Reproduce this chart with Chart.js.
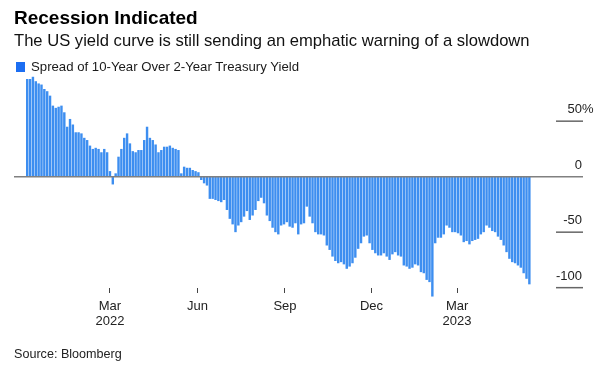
<!DOCTYPE html>
<html>
<head>
<meta charset="utf-8">
<script src="https://cdn.jsdelivr.net/npm/chart.js@4.4.0/dist/chart.umd.min.js"></script>
<style>
    html, body { margin: 0; padding: 0; background: #fff; }
    body { width: 605px; height: 375px; position: relative; overflow: hidden; font-family: 'Liberation Sans', Arial, sans-serif; }
    #spreadChart { position: absolute; left: 0; top: 0; }
    .txt { position: absolute; left: 14px; white-space: nowrap; }
    #title { top: 8px; font-size: 19px; line-height: 19px; font-weight: bold; color: #000; }
    #subtitle { top: 33px; font-size: 16.6px; line-height: 16.6px; color: #111; }
    #legendBox { position: absolute; left: 16px; top: 62px; width: 9px; height: 10px; background: #1c6ef2; }
    #legendText { left: 31px; top: 60px; font-size: 13.2px; line-height: 13.2px; color: #1a1a1a; }
    #source { top: 348px; font-size: 12.6px; line-height: 12.6px; color: #222; }
</style>
</head>
<body>
<canvas id="spreadChart" width="605" height="375"></canvas>
<div class="txt" id="title">Recession Indicated</div>
<div class="txt" id="subtitle">The US yield curve is still sending an emphatic warning of a slowdown</div>
<div id="legendBox"></div>
<div class="txt" id="legendText">Spread of 10-Year Over 2-Year Treasury Yield</div>
<div class="txt" id="source">Source: Bloomberg</div>

<script>
// gün numarası: 0 = 1 Ocak 2022, her çubuk 3 gün arayla (ilk çubuk 4 Aralık 2021)
const firstDay = -28;
const stepDays = 3;

// 10 yıl - 2 yıl farkı (baz puan)
const spread = [
    88, 88, 90, 86, 84, 83, 79, 77, 73, 64,
    62, 63, 64, 58, 45, 52, 47, 40, 40, 39,
    35, 33, 28, 25, 26, 25, 22, 25, 22, 5,
    -7, 3, 18, 25, 35, 39, 30, 23, 22, 24,
    24, 33, 45, 35, 33, 29, 22, 24, 27, 27,
    28, 26, 25, 24, 3, 9, 8, 8, 6, 5,
    4, -3, -6, -8, -20, -20, -21, -22, -23, -21,
    -30, -38, -43, -50, -44, -41, -36, -31, -39, -35,
    -30, -22, -19, -24, -35, -40, -46, -50, -52, -44,
    -43, -41, -45, -46, -42, -52, -43, -42, -27, -36,
    -42, -50, -52, -52, -53, -62, -66, -72, -76, -78,
    -77, -79, -83, -81, -78, -73, -65, -60, -54, -53,
    -60, -66, -69, -71, -71, -69, -72, -75, -70, -68,
    -71, -72, -80, -81, -83, -82, -79, -80, -86, -87,
    -93, -95, -108, -60, -55, -55, -52, -44, -46, -50,
    -50, -51, -53, -59, -58, -61, -58, -57, -56, -52,
    -50, -44, -46, -49, -50, -54, -57, -62, -68, -74,
    -77, -78, -80, -82, -87, -92, -97
];

const barDays = spread.map((_, i) => firstDay + stepDays * i);

// x ekseni etiketleri (1 Mart 2022, 1 Haziran, 1 Eylül, 1 Aralık, 1 Mart 2023)
const xTickDays = [59, 151, 243, 334, 424];
const xTickLabels = [['Mar', '2022'], 'Jun', 'Sep', 'Dec', ['Mar', '2023']];

// y ekseni etiketleri
const yTicks = [50, 0, -50, -100];
const yTickLabels = ['50', '0', '-50', '-100'];

const fontFamily = "'Liberation Sans', Arial, sans-serif";

// sıfır çizgisi ve sağdaki y etiketleri
const axisPlugin = {
    id: 'axisPlugin',
    afterDatasetsDraw(chart) {
        const { ctx, chartArea, scales: { y } } = chart;
        ctx.save();
        const y0 = y.getPixelForValue(0);
        ctx.strokeStyle = '#808080';
        ctx.lineWidth = 1.5;
        ctx.beginPath();
        ctx.moveTo(chartArea.left, y0);
        ctx.lineTo(chartArea.right, y0);
        ctx.stroke();

        ctx.font = '13px ' + fontFamily;
        ctx.fillStyle = '#222';
        ctx.textBaseline = 'alphabetic';
        yTicks.forEach((v, i) => {
            const py = y.getPixelForValue(v);
            if (v !== 0) {
                ctx.strokeStyle = '#666';
                ctx.lineWidth = 1.5;
                ctx.beginPath();
                ctx.moveTo(chartArea.right - 27, py);
                ctx.lineTo(chartArea.right, py);
                ctx.stroke();
            }
            ctx.textAlign = 'right';
            ctx.fillText(yTickLabels[i], chartArea.right - 1, py - 8);
            if (i === 0) {
                ctx.textAlign = 'left';
                ctx.fillText('%', chartArea.right - 1, py - 8);
            }
        });
        ctx.restore();
    }
};

const ctx = document.getElementById('spreadChart').getContext('2d');
const spreadChart = new Chart(ctx, {
    type: 'bar',
    data: {
        datasets: [{
            label: 'Spread of 10-Year Over 2-Year Treasury Yield',
            data: barDays.map((d, i) => ({ x: d, y: spread[i] })),
            backgroundColor: '#3d8ef0',
            borderWidth: 0,
            barPercentage: 0.85,
            categoryPercentage: 1,
            clip: false
        }]
    },
    options: {
        responsive: false,
        animation: false,
        layout: { padding: { left: 14, right: 22, top: 71, bottom: 0 } },
        plugins: {
            legend: { display: false },
            tooltip: { enabled: false }
        },
        scales: {
            x: {
                type: 'linear',
                min: -41.9,
                max: 556.4,
                offset: false,
                afterBuildTicks: scale => {
                    scale.ticks = xTickDays.map(v => ({ value: v }));
                },
                afterFit: scale => {
                    scale.height = 87;
                },
                ticks: {
                    autoSkip: false,
                    maxRotation: 0,
                    padding: 6,
                    color: '#222',
                    font: { family: fontFamily, size: 13, lineHeight: 1.15 },
                    callback: (value, index) => xTickLabels[index]
                },
                grid: {
                    offset: false,
                    drawOnChartArea: false,
                    drawTicks: true,
                    tickLength: 5,
                    tickColor: '#444'
                },
                border: { display: false }
            },
            y: {
                display: false,
                min: -100.3,
                max: 95.2
            }
        }
    },
    plugins: [axisPlugin]
});
</script>
</body>
</html>
